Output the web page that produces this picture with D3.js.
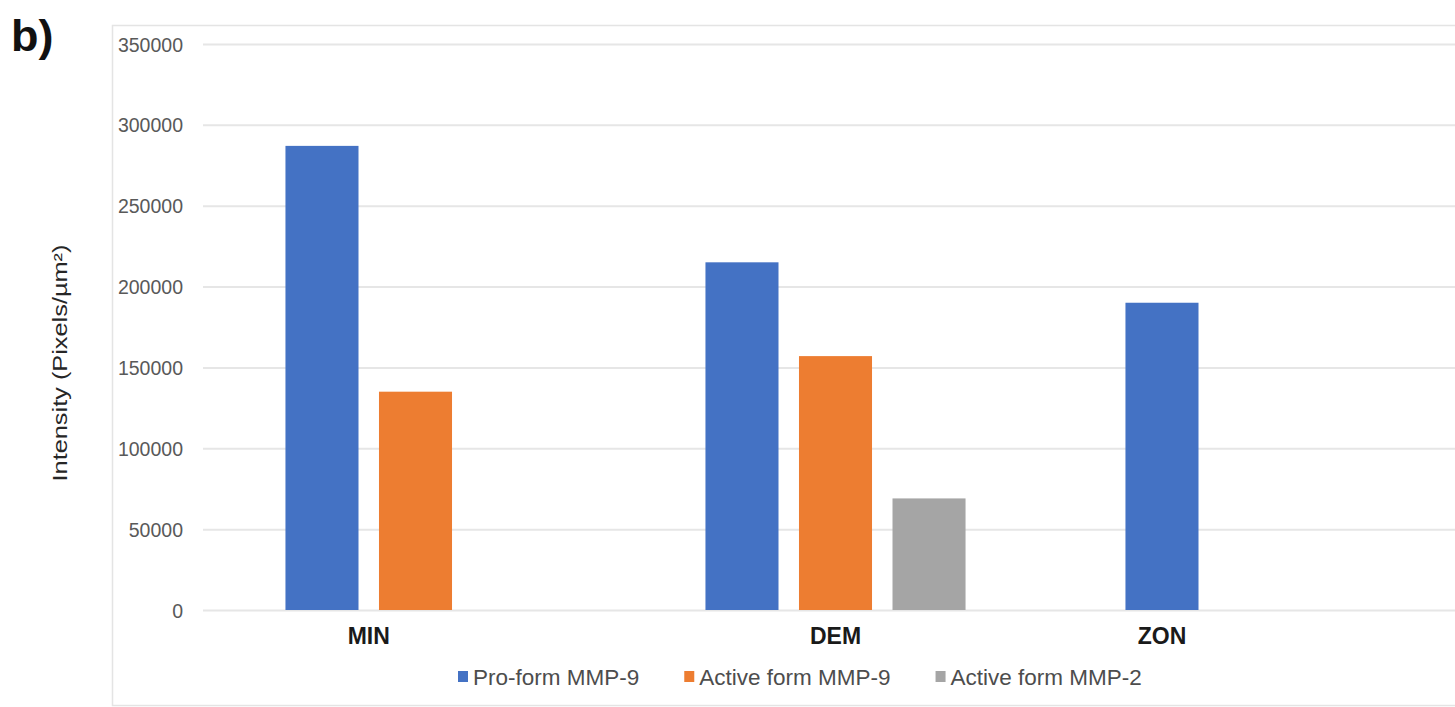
<!DOCTYPE html>
<html>
<head>
<meta charset="utf-8">
<script src="https://cdn.jsdelivr.net/npm/d3@7"></script>
<style>
  html, body { margin: 0; padding: 0; background: #ffffff; }
  svg { display: block; font-family: "Liberation Sans", Arial, sans-serif; }
</style>
</head>
<body>
<svg id="chart" width="1455" height="707"></svg>
<script>
// ---- data ----
const categories = ["MIN", "DEM", "ZON"];
const seriesNames = ["Pro-form MMP-9", "Active form MMP-9", "Active form MMP-2"];
const proFormMMP9 = [287000, 215000, 190000];
const activeFormMMP9 = [135000, 157000, null];
const activeFormMMP2 = [null, 69000, null];
const seriesColors = ["#4472C4", "#ED7D31", "#A5A5A5"];
const yTicks = [0, 50000, 100000, 150000, 200000, 250000, 300000, 350000];
const panelLabel = "b)";
const yTitle = "Intensity (Pixels/\u00B5m\u00B2)";

const seriesValues = [proFormMMP9, activeFormMMP9, activeFormMMP2];

// ---- layout ----
const svg = d3.select("#chart");
const W = 1455, H = 707;
const plot = { left: 205.5, right: 1465.5, top: 44, bottom: 610 };

const x0 = d3.scaleBand().domain(categories).range([plot.left, plot.right]).paddingInner(0).paddingOuter(0);
const x1 = d3.scaleBand().domain(seriesNames).range([0, x0.bandwidth()]).paddingInner(0.219).paddingOuter(0.855);
const y = d3.scaleLinear().domain([0, 350000]).range([plot.bottom, plot.top]);

// chart area border
svg.append("rect")
  .attr("x", 112.5).attr("y", 25.5)
  .attr("width", W).attr("height", H - 25.5 - 1.5)
  .attr("fill", "none").attr("stroke", "#e4e4e4").attr("stroke-width", 1.5);

// gridlines
const grid = svg.append("g").attr("transform", `translate(${203},0)`)
  .call(d3.axisLeft(y).tickValues(yTicks).tickSize(-(W - 203)).tickFormat(""));
grid.select(".domain").remove();
grid.selectAll(".tick line").attr("stroke", "#e6e6e6").attr("stroke-width", 2);

// y tick labels
const yAxis = svg.append("g").attr("transform", `translate(${183},0)`)
  .call(d3.axisLeft(y).tickValues(yTicks).tickSize(0).tickPadding(0).tickFormat(d3.format("d")));
yAxis.select(".domain").remove();
yAxis.selectAll(".tick text")
  .attr("font-family", "'Liberation Sans', Arial, sans-serif")
  .attr("font-size", 19.5).attr("fill", "#595959").attr("dy", "0.36em");

// bars
const barData = [];
categories.forEach((c, ci) => {
  seriesNames.forEach((s, si) => {
    const v = seriesValues[si][ci];
    if (v != null) barData.push({ cat: c, series: s, si: si, value: v });
  });
});
svg.append("g").selectAll("rect").data(barData).join("rect")
  .attr("x", d => x0(d.cat) + x1(d.series))
  .attr("width", x1.bandwidth())
  .attr("y", d => y(d.value))
  .attr("height", d => y(0) - y(d.value))
  .attr("fill", d => seriesColors[d.si]);

// category labels centered on the bars present in each category
svg.append("g").selectAll("text").data(categories).join("text")
  .attr("x", (c, ci) => {
    const present = seriesNames.filter((s, si) => seriesValues[si][ci] != null);
    const xs = present.map(s => x0(c) + x1(s) + x1.bandwidth() / 2);
    return d3.mean(xs);
  })
  .attr("y", 644)
  .attr("text-anchor", "middle")
  .attr("font-size", 23).attr("font-weight", "bold").attr("fill", "#1a1a1a")
  .text(d => d);

// y-axis title
svg.append("text")
  .attr("transform", `translate(67,${363}) rotate(-90)`)
  .attr("text-anchor", "middle")
  .attr("font-size", 19.5).attr("fill", "#262626")
  .attr("textLength", 237).attr("lengthAdjust", "spacingAndGlyphs")
  .text(yTitle);

// panel label
svg.append("text")
  .attr("x", 11).attr("y", 51)
  .attr("font-size", 45).attr("font-weight", "bold").attr("fill", "#111111")
  .text(panelLabel);

// legend
const legend = svg.append("g").attr("transform", "translate(458,677)");
let lx = 0;
seriesNames.forEach((s, si) => {
  const g = legend.append("g").attr("transform", `translate(${lx},0)`);
  g.append("rect").attr("x", 0).attr("y", -6).attr("width", 10).attr("height", 11)
    .attr("fill", seriesColors[si]);
  const t = g.append("text").attr("x", 15).attr("y", 0).attr("dy", "0.36em")
    .attr("font-size", 22.5).attr("fill", "#4d4d4d").text(s);
  lx += 15 + t.node().getComputedTextLength() + 45;
});
</script>
</body>
</html>
